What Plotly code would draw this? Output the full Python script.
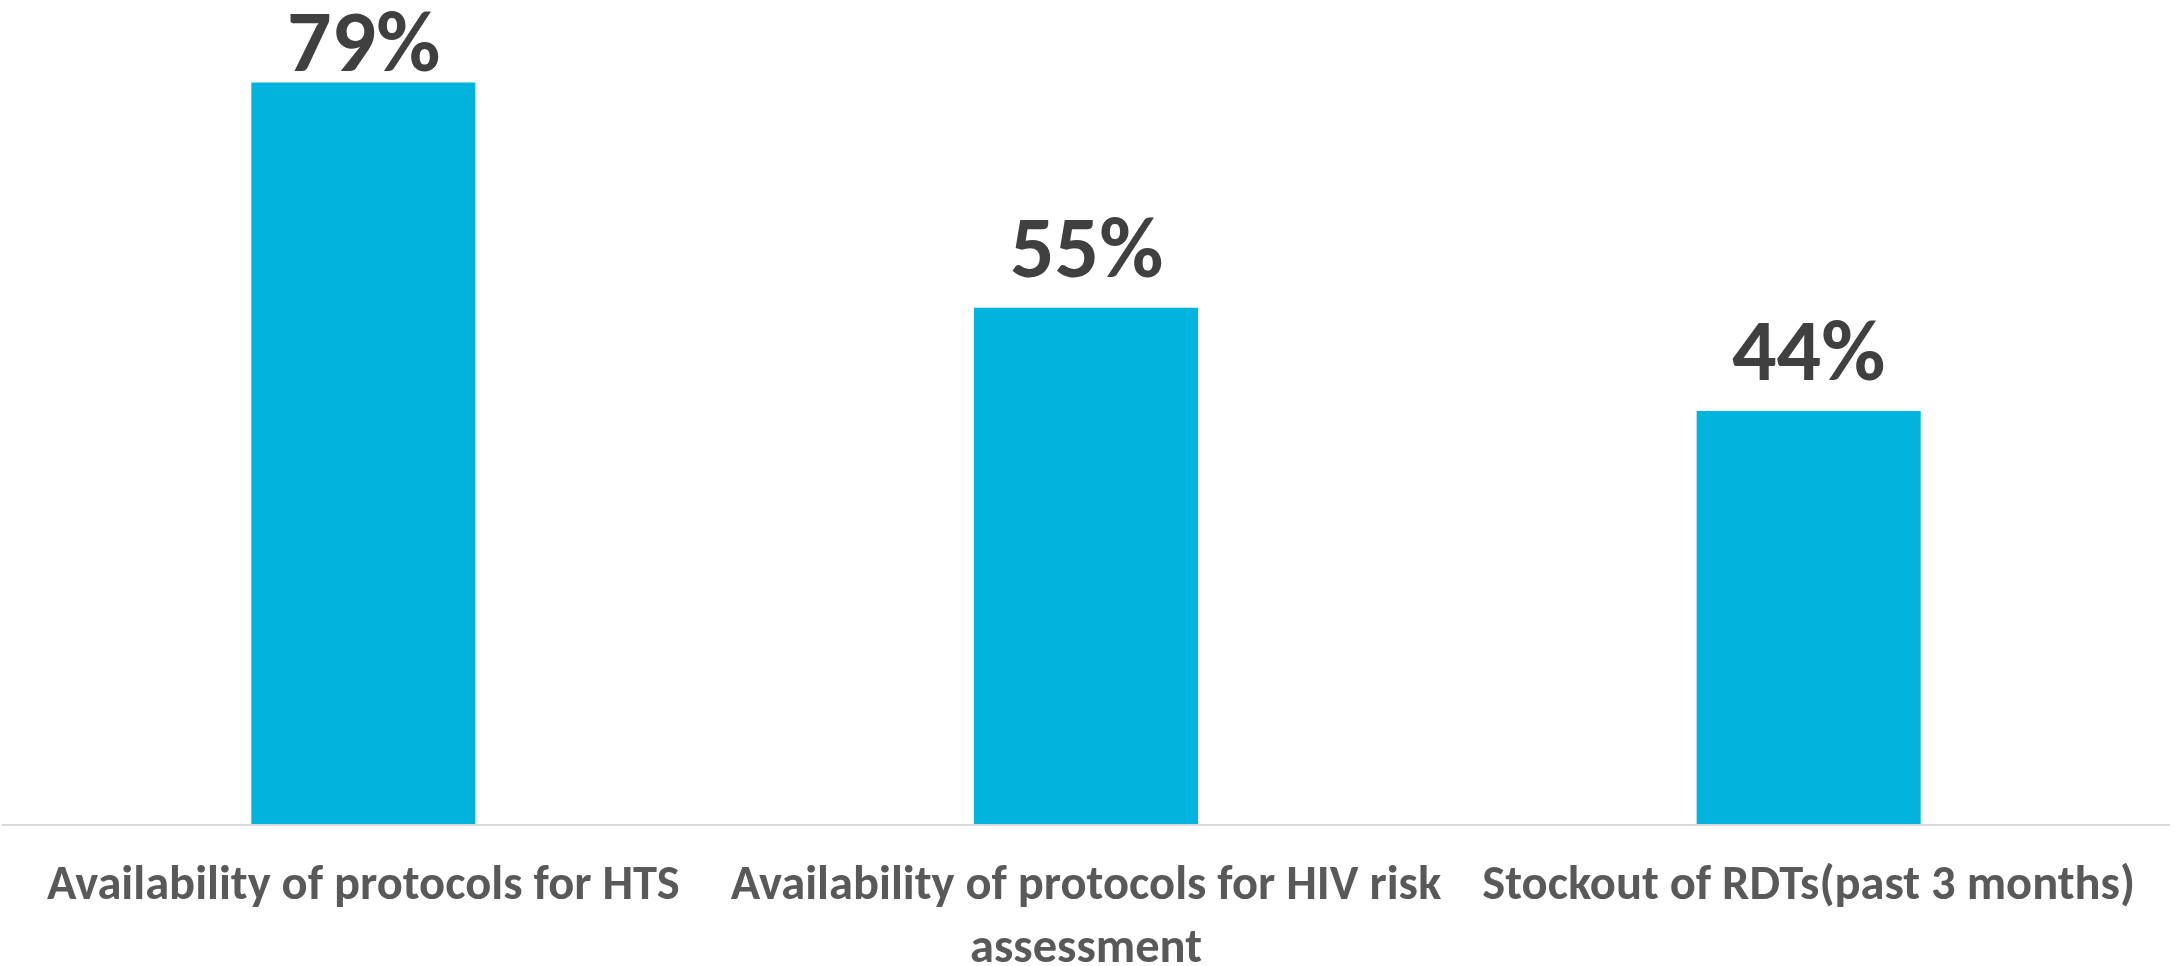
import plotly.graph_objects as go

categories = [
    "Availability of protocols for HTS",
    "Availability of protocols for HIV risk<br>assessment",
    "Stockout of RDTs(past 3 months)",
]
values = [79, 55, 44]
labels = ["79%", "55%", "44%"]

FONT = "Carlito, 'Liberation Sans Narrow', 'DejaVu Sans Condensed', 'Open Sans', sans-serif"

HEIGHT = 966
MARGIN_B = 142
Y_MAX = 87.8
plot_h = HEIGHT - MARGIN_B

fig = go.Figure(
    go.Bar(
        x=categories,
        y=values,
        marker=dict(color="#00B4DE", line=dict(width=0)),
        width=0.31,
        hoverinfo="skip",
    )
)

for cat, val, lab in zip(categories, values, labels):
    # distance of the bar top from the top of the plot, in pixels
    top_px = plot_h * (1 - val / Y_MAX)
    # labels sit above their bar; when there is no room they are pushed down
    shift = 6 if top_px > 150 else -13
    fig.add_annotation(
        x=cat,
        y=val,
        xref="x",
        yref="y",
        text=lab,
        showarrow=False,
        yanchor="bottom",
        yshift=shift,
        borderpad=0,
        font=dict(family=FONT, size=88, color="#404040", weight="bold"),
    )

fig.update_layout(
    width=2176,
    height=HEIGHT,
    margin=dict(l=2, r=6, t=0, b=MARGIN_B, autoexpand=False),
    paper_bgcolor="white",
    plot_bgcolor="white",
    showlegend=False,
    font=dict(family=FONT),
    xaxis=dict(
        showline=True,
        linecolor="#D9D9D9",
        linewidth=2,
        showgrid=False,
        ticks="",
        automargin=False,
        tickfont=dict(family=FONT, size=48.5, color="#595959", weight="bold"),
        ticklabelstandoff=15,
    ),
    yaxis=dict(
        range=[0, Y_MAX],
        visible=False,
        showgrid=False,
        zeroline=False,
        automargin=False,
    ),
)

fig.write_html("out.html")
